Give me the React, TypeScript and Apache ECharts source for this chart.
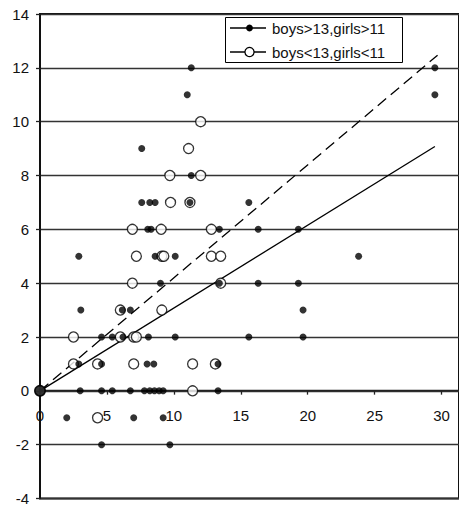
import React, { useEffect, useRef } from "react";
import * as echarts from "echarts";

// Filled markers: boys>13, girls>11
const boysAboveGirlsAbove: number[][] = [
  [11.3, 12], [29.5, 12],
  [11.0, 11], [29.5, 11],
  [7.6, 9],
  [11.3, 8],
  [7.6, 7], [8.2, 7], [8.6, 7], [11.2, 7], [15.6, 7],
  [8.05, 6], [8.3, 6], [13.4, 6], [16.3, 6], [19.3, 6],
  [2.9, 5], [8.6, 5], [10.1, 5], [23.8, 5],
  [9.0, 4], [13.4, 4], [16.3, 4], [19.3, 4],
  [3.05, 3], [6.15, 3], [6.75, 3], [19.65, 3],
  [4.6, 2], [5.4, 2], [6.2, 2], [8.1, 2], [10.1, 2], [15.6, 2], [19.65, 2],
  [2.9, 1], [4.6, 1], [8.0, 1], [8.5, 1], [13.3, 1],
  [3.0, 0], [4.6, 0], [5.4, 0], [6.75, 0], [7.8, 0], [8.2, 0], [8.55, 0], [8.9, 0], [9.2, 0], [13.3, 0],
  [2.0, -1], [7.0, -1], [9.2, -1],
  [4.6, -2], [9.7, -2],
];

// Open markers: boys<13, girls<11
const boysBelowGirlsBelow: number[][] = [
  [12.0, 10],
  [11.1, 9],
  [9.7, 8], [12.0, 8],
  [9.75, 7], [11.2, 7],
  [6.9, 6], [9.05, 6], [12.8, 6],
  [7.2, 5], [9.1, 5], [9.25, 5], [12.8, 5], [13.5, 5],
  [6.9, 4], [13.5, 4],
  [6.0, 3], [9.1, 3],
  [2.5, 2], [6.0, 2], [7.0, 2], [7.2, 2],
  [2.5, 1], [4.3, 1], [7.0, 1], [11.4, 1], [13.1, 1],
  [0, 0], [11.4, 0],
  [4.3, -1],
];

// Overlapping points at the origin
const originPoints: number[][] = [[0, 0]];

// Fitted lines through the origin
const solidTrend: number[][] = [[0, 0], [29.5, 9.08]];
const dashedTrend: number[][] = [[0, 0], [29.7, 12.47]];

const xTickValues = [0, 5, 10, 15, 20, 25, 30];
const legendLabels = ["boys>13,girls>11", "boys<13,girls<11"];

const FONT = "'Liberation Sans', Arial, Helvetica, sans-serif";

const Y_MIN = -4;
const Y_MAX = 14;
const GRID_TOP = 14;
const GRID_BOTTOM = 6.7;
const CHART_H = 506;

export default function App() {
  const ref = useRef<HTMLDivElement>(null);

  useEffect(() => {
    document.body.style.margin = "0";
    const chart = echarts.init(ref.current!, undefined, { renderer: "svg" });
    const plotH = CHART_H - GRID_TOP - GRID_BOTTOM;
    const zeroOffset = -(plotH * (0 - Y_MIN)) / (Y_MAX - Y_MIN);
    chart.setOption({
      animation: false,
      backgroundColor: "#fff",
      grid: {
        left: 40,
        top: GRID_TOP,
        right: -2,
        bottom: GRID_BOTTOM,
        show: true,
        borderColor: "#111",
        borderWidth: 2,
        backgroundColor: "transparent",
      },
      xAxis: {
        type: "value",
        min: 0,
        max: 31.3,
        interval: 5,
        offset: zeroOffset,
        axisLine: { onZero: false, lineStyle: { color: "#222", width: 1.3 } },
        axisTick: {
          show: true,
          length: 4,
          customValues: xTickValues,
          lineStyle: { color: "#222", width: 1.3 },
        },
        axisLabel: {
          customValues: xTickValues,
          margin: 17,
          fontSize: 15,
          fontFamily: FONT,
          color: "#111",
          formatter: (v: number) => (v % 5 === 0 ? String(v) : ""),
        },
        splitLine: { show: false },
      },
      yAxis: {
        type: "value",
        min: Y_MIN,
        max: Y_MAX,
        interval: 2,
        axisLine: { show: true, onZero: false, lineStyle: { color: "#111", width: 1.6 } },
        axisTick: { show: true, length: 4, lineStyle: { color: "#222", width: 1.3 } },
        axisLabel: {
          margin: 11,
          fontSize: 15,
          fontFamily: FONT,
          color: "#111",
        },
        splitLine: { show: true, lineStyle: { color: "#333", width: 1.3 } },
      },
      series: [
        {
          type: "line",
          data: solidTrend,
          symbol: "none",
          silent: true,
          lineStyle: { color: "#000", width: 1.3 },
          z: 3,
        },
        {
          type: "line",
          data: dashedTrend,
          symbol: "none",
          silent: true,
          lineStyle: { color: "#000", width: 1.3, type: [11, 6] },
          z: 3,
        },
        {
          name: legendLabels[1],
          type: "scatter",
          data: boysBelowGirlsBelow,
          symbol: "circle",
          symbolSize: 10,
          itemStyle: { color: "#fff", borderColor: "#000", borderWidth: 1.3 },
          z: 4,
        },
        {
          name: legendLabels[0],
          type: "scatter",
          data: boysAboveGirlsAbove,
          symbol: "circle",
          symbolSize: 7,
          itemStyle: { color: "#000" },
          z: 5,
        },
        {
          type: "scatter",
          data: originPoints,
          symbol: "circle",
          symbolSize: 12,
          itemStyle: { color: "#000" },
          z: 6,
        },
      ],
      graphic: [
        {
          type: "group",
          left: 225,
          top: 17,
          z: 100,
          children: [
            {
              type: "rect",
              shape: { x: 0.5, y: 0.5, width: 177, height: 45 },
              style: { fill: "#fff", stroke: "#000", lineWidth: 1 },
            },
            {
              type: "line",
              shape: { x1: 5, y1: 11, x2: 41, y2: 11 },
              style: { stroke: "#000", lineWidth: 1.3 },
            },
            {
              type: "circle",
              shape: { cx: 24.5, cy: 11, r: 3.4 },
              style: { fill: "#000" },
            },
            {
              type: "text",
              x: 47,
              y: 11,
              style: {
                text: legendLabels[0],
                font: `15px ${FONT}`,
                fill: "#111",
                verticalAlign: "middle",
              },
            },
            {
              type: "line",
              shape: { x1: 5, y1: 35, x2: 41, y2: 35 },
              style: { stroke: "#000", lineWidth: 1.3 },
            },
            {
              type: "circle",
              shape: { cx: 24.5, cy: 35, r: 4.6 },
              style: { fill: "#fff", stroke: "#000", lineWidth: 1.3 },
            },
            {
              type: "text",
              x: 47,
              y: 35,
              style: {
                text: legendLabels[1],
                font: `15px ${FONT}`,
                fill: "#111",
                verticalAlign: "middle",
              },
            },
          ],
        },
      ],
    });
    return () => chart.dispose();
  }, []);

  return <div ref={ref} style={{ width: 459, height: 506 }} />;
}
